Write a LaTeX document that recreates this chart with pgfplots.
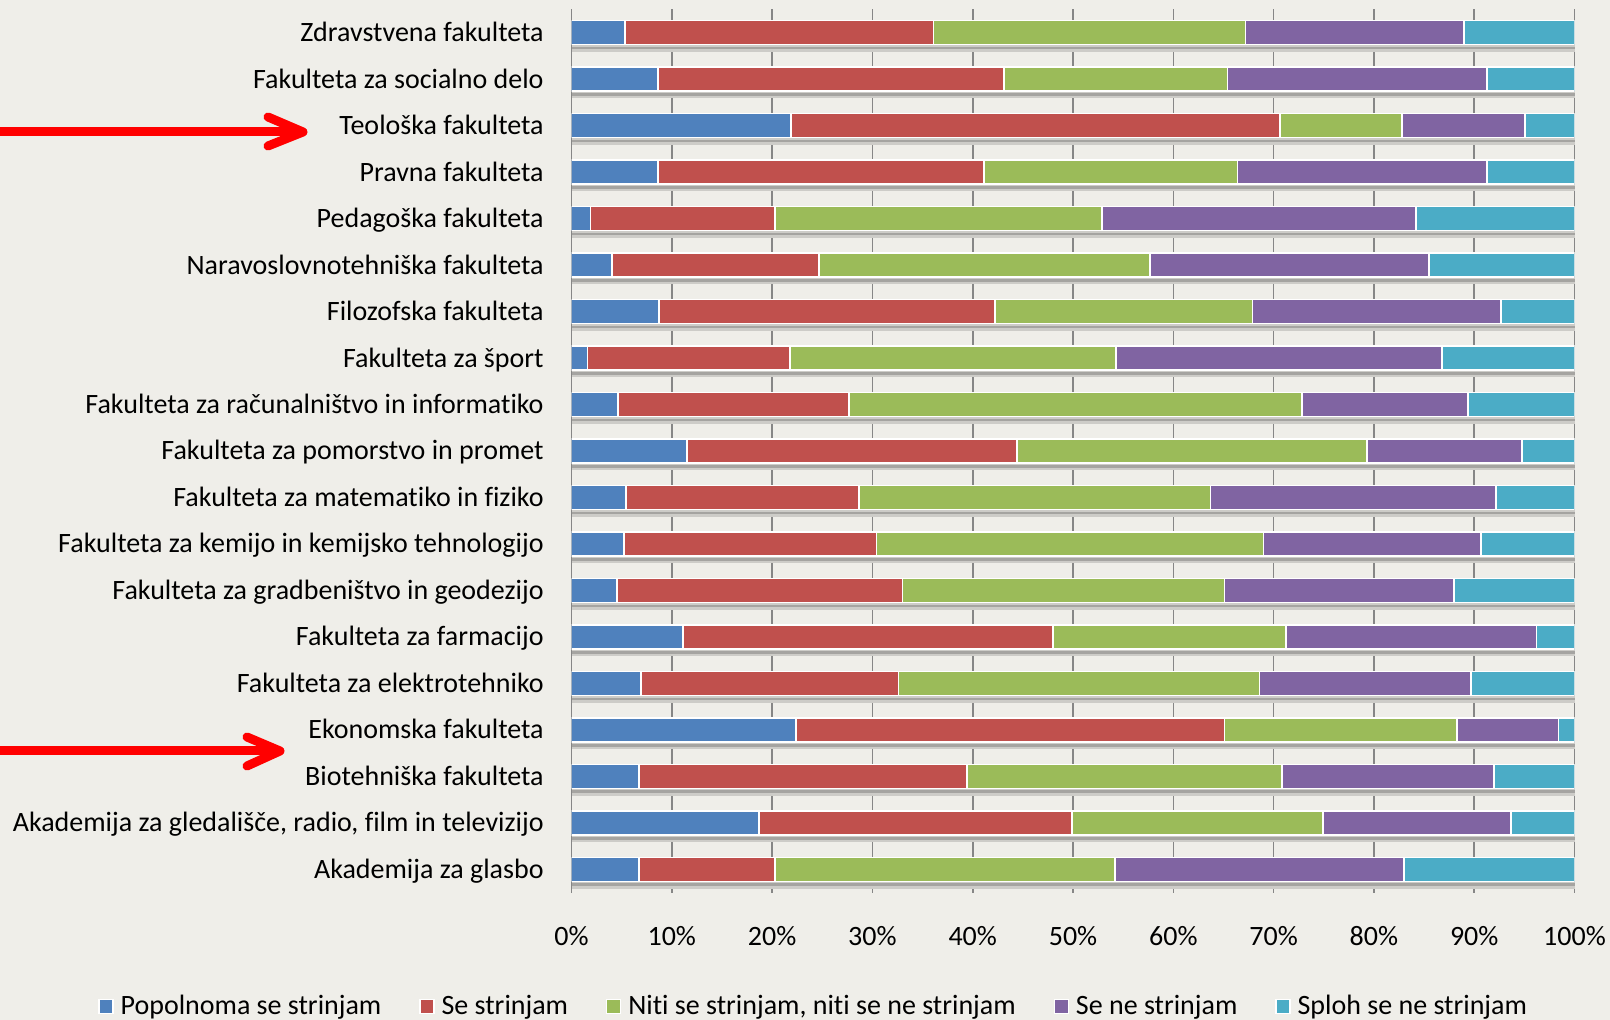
\documentclass[border=0pt]{standalone}
\usepackage{fontspec}
\setmainfont[Ligatures={NoCommon,NoContextual}]{Carlito}
\usepackage{pgfplots}
\usepackage{pgfplotstable}
\pgfplotsset{compat=1.18}
\definecolor{bg}{RGB}{239,238,233}
\definecolor{c1}{RGB}{79,129,189}
\definecolor{c2}{RGB}{192,80,77}
\definecolor{c3}{RGB}{155,187,89}
\definecolor{c4}{RGB}{128,100,162}
\definecolor{c5}{RGB}{75,172,198}
\definecolor{gridc}{RGB}{134,134,134}
\definecolor{shadowA}{RGB}{205,204,200}
\definecolor{shadowB}{RGB}{165,164,161}

% y = 0 is the bottom row (Akademija za glasbo)
\pgfplotstableread{
y a b c d e
18 5.3 30.8 31.1 21.8 11.0
17 8.6 34.5 22.3 25.9 8.7
16 21.9 48.7 12.2 12.3 4.9
15 8.6 32.5 25.3 24.9 8.7
14 1.9 18.4 32.6 31.3 15.8
13 4.0 20.7 33.0 27.8 14.5
12 8.7 33.5 25.7 24.8 7.3
11 1.6 20.2 32.5 32.5 13.2
10 4.6 23.1 45.1 16.6 10.6
9 11.5 32.9 34.9 15.5 5.2
8 5.4 23.3 35.0 28.5 7.8
7 5.2 25.2 38.6 21.7 9.3
6 4.5 28.5 32.1 22.9 12.0
5 11.1 36.9 23.2 25.0 3.8
4 6.9 25.7 36.0 21.1 10.3
3 22.4 42.7 23.2 10.1 1.6
2 6.7 32.7 31.4 21.2 8.0
1 18.7 31.2 25.0 18.8 6.3
0 6.7 13.6 33.9 28.8 17.0
}\data

\begin{document}
\begin{tikzpicture}
\path[use as bounding box, fill=bg] (0,0) rectangle (805pt,510pt);
\begin{axis}[
  at={(285.75pt,63.65pt)}, anchor=south west,
  scale only axis, width=501.5pt, height=441.7pt,
  xbar stacked, bar width=12pt,
  xmin=0, xmax=100, ymin=-0.5, ymax=18.5,
  ytick={0,...,18},
  yticklabels={
    Akademija za glasbo,
    {Akademija za gledališče, radio, film in televizijo},
    Biotehniška fakulteta,
    Ekonomska fakulteta,
    Fakulteta za elektrotehniko,
    Fakulteta za farmacijo,
    Fakulteta za gradbeništvo in geodezijo,
    Fakulteta za kemijo in kemijsko tehnologijo,
    Fakulteta za matematiko in fiziko,
    Fakulteta za pomorstvo in promet,
    Fakulteta za računalništvo in informatiko,
    Fakulteta za šport,
    Filozofska fakulteta,
    Naravoslovnotehniška fakulteta,
    Pedagoška fakulteta,
    Pravna fakulteta,
    Teološka fakulteta,
    Fakulteta za socialno delo,
    Zdravstvena fakulteta},
  minor ytick={-0.344,0.656,1.656,2.656,3.656,4.656,5.656,6.656,7.656,8.656,9.656,10.656,11.656,12.656,13.656,14.656,15.656,16.656,17.656},
  yminorgrids, minor grid style={shadowA, line width=3.2pt},
  extra y ticks={-0.33,0.67,1.67,2.67,3.67,4.67,5.67,6.67,7.67,8.67,9.67,10.67,11.67,12.67,13.67,14.67,15.67,16.67,17.67},
  extra y tick labels={},
  extra y tick style={grid=major, major grid style={shadowB, line width=1.3pt}},
  xtick={0,10,...,100},
  xticklabels={0\%,10\%,20\%,30\%,40\%,50\%,60\%,70\%,80\%,90\%,100\%},
  xmajorgrids, major grid style={gridc, line width=0.8pt},
  axis line style={draw=none}, major tick length=0pt, minor tick length=0pt,
  tick label style={font=\fontsize{14}{17}\selectfont, inner sep=0pt, text=black},
  yticklabel style={anchor=base east, xshift=-13.75pt, yshift=-4.5pt},
  xticklabel style={anchor=base, yshift=-26.5pt},
  legend columns=5,
  legend style={draw=none, fill=none, at={(0.2420,-0.1288)}, anchor=center,
    font=\fontsize{14}{17}\selectfont,
    /tikz/every odd column/.append style={column sep=2pt},
    /tikz/every even column/.append style={column sep=17.5pt},
    nodes={inner sep=1.5pt}},
  legend image code/.code={\draw[#1, draw=white, line width=0.6pt] (0pt,-3.5pt) rectangle (7pt,3.5pt);},
  every axis plot/.append style={draw=white, line width=0.9pt},
]
\addplot[fill=c1] table[x=a,y=y]{\data};
\addplot[fill=c2] table[x=b,y=y]{\data};
\addplot[fill=c3] table[x=c,y=y]{\data};
\addplot[fill=c4] table[x=d,y=y]{\data};
\addplot[fill=c5] table[x=e,y=y]{\data};
\legend{Popolnoma se strinjam, Se strinjam, {Niti se strinjam, niti se ne strinjam}, Se ne strinjam, Sploh se ne strinjam}
\end{axis}
\begin{scope}[yshift=510pt, x=0.5pt, y=-0.5pt]
  \draw[red, line width=4.5pt, line cap=butt] (-5,132) -- (300,132);
  \draw[red, line width=4.5pt, line cap=round, line join=round] (268,117) -- (303,132) -- (268,146);
  \draw[red, line width=4.5pt, line cap=butt] (-5,751) -- (277,751);
  \draw[red, line width=4.5pt, line cap=round, line join=round] (247,737) -- (280,751) -- (247,766);
\end{scope}
\end{tikzpicture}
\end{document}
